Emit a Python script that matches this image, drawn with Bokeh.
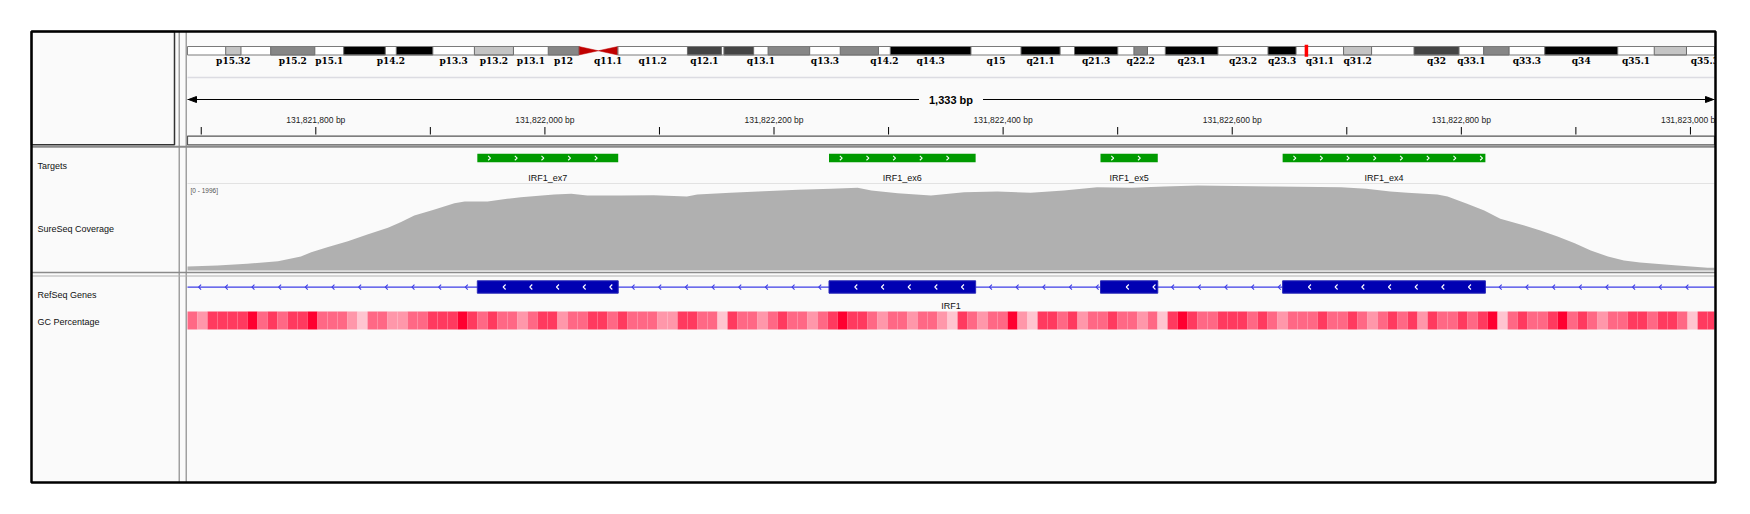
import numpy as np
from bokeh.plotting import figure
from bokeh.models import Range1d, Label
from bokeh.core.properties import value
from bokeh.embed import file_html
from bokeh.resources import INLINE

# ---------------- data ----------------
view_start = 131821688
view_end = 131823021
span_text = "1,333 bp"

band_names = ["p15.33", "p15.32", "p15.31", "p15.2", "p15.1", "p14.3", "p14.2", "p14.1", "p13.3", "p13.2",
              "p13.1", "p12", "p11", "q11.1", "q11.2", "q12.1", "q12.2", "q12.3", "q13.1", "q13.2",
              "q13.3", "q14.1", "q14.2", "q14.3", "q15", "q21.1", "q21.2", "q21.3", "q22.1", "q22.2",
              "q22.3", "q23.1", "q23.2", "q23.3", "q31.1", "q31.2", "q31.3", "q32", "q33.1", "q33.2",
              "q33.3", "q34", "q35.1", "q35.2", "q35.3"]
band_start_mb = [0.0, 4.5, 6.3, 9.8, 15.0, 18.4, 23.3, 24.6, 28.9, 33.8,
                 38.4, 42.5, 46.1, 48.4, 50.7, 58.9, 62.9, 63.2, 66.7, 68.4,
                 73.3, 76.9, 81.4, 82.8, 92.3, 98.2, 102.8, 104.5, 109.6, 111.5,
                 113.1, 115.2, 121.4, 127.3, 130.6, 136.2, 139.5, 144.5, 149.8, 152.7,
                 155.7, 159.9, 168.5, 172.8, 176.6]
band_end_mb = [4.5, 6.3, 9.8, 15.0, 18.4, 23.3, 24.6, 28.9, 33.8, 38.4,
               42.5, 46.1, 48.4, 50.7, 58.9, 62.9, 63.2, 66.7, 68.4, 73.3,
               76.9, 81.4, 82.8, 92.3, 98.2, 102.8, 104.5, 109.6, 111.5, 113.1,
               115.2, 121.4, 127.3, 130.6, 136.2, 139.5, 144.5, 149.8, 152.7, 155.7,
               159.9, 168.5, 172.8, 176.6, 180.915]
band_stain = ["gneg", "gpos25", "gneg", "gpos50", "gneg", "gpos100", "gneg", "gpos100", "gneg", "gpos25",
              "gneg", "gpos50", "acen", "acen", "gneg", "gpos75", "gneg", "gpos75", "gneg", "gpos50",
              "gneg", "gpos50", "gneg", "gpos100", "gneg", "gpos100", "gneg", "gpos100", "gneg", "gpos50",
              "gneg", "gpos100", "gneg", "gpos100", "gneg", "gpos25", "gneg", "gpos75", "gneg", "gpos50",
              "gneg", "gpos100", "gneg", "gpos25", "gneg"]
band_labels_shown = ["p15.32", "p15.2", "p15.1", "p14.2", "p13.3", "p13.2", "p13.1", "p12", "q11.1",
                     "q11.2", "q12.1", "q13.1", "q13.3", "q14.2", "q14.3", "q15", "q21.1", "q21.3",
                     "q22.2", "q23.1", "q23.2", "q23.3", "q31.1", "q31.2", "q32", "q33.1", "q33.3",
                     "q34", "q35.1", "q35.3"]

ruler_minor = [131821700, 131821800, 131821900, 131822000, 131822100, 131822200, 131822300,
               131822400, 131822500, 131822600, 131822700, 131822800, 131822900, 131823000]
ruler_major = [131821800, 131822000, 131822200, 131822400, 131822600, 131822800, 131823000]
ruler_major_labels = ["131,821,800 bp", "131,822,000 bp", "131,822,200 bp", "131,822,400 bp",
                      "131,822,600 bp", "131,822,800 bp", "131,823,000 bp"]

target_names = ["IRF1_ex7", "IRF1_ex6", "IRF1_ex5", "IRF1_ex4"]
target_start = [131821941, 131822248, 131822485, 131822644]
target_end = [131822064, 131822376, 131822535, 131822821]

gene_name = "IRF1"
exon_start = [131821941, 131822248, 131822485, 131822644]
exon_end = [131822064, 131822376, 131822535, 131822821]

cov_range_max = 1996
cov_pos = [131821688, 131821714, 131821740, 131821767, 131821787, 131821796, 131821810, 131821828,
           131821845, 131821863, 131821874, 131821886, 131821903, 131821921, 131821930, 131821950,
           131821967, 131821979, 131822008, 131822023, 131822037, 131822066, 131822095, 131822124,
           131822133, 131822162, 131822191, 131822221, 131822250, 131822273, 131822285, 131822308,
           131822337, 131822366, 131822395, 131822424, 131822453, 131822482, 131822512, 131822541,
           131822570, 131822637, 131822695, 131822717, 131822738, 131822753, 131822779, 131822788,
           131822805, 131822820, 131822834, 131822855, 131822869, 131822884, 131822899, 131822913,
           131822928, 131822942, 131822956, 131822986, 131823015, 131823021]
cov_val = [92, 115, 153, 214, 321, 421, 535, 673, 826, 979,
           1109, 1262, 1392, 1545, 1583, 1583, 1644, 1683, 1744, 1759,
           1721, 1721, 1728, 1698, 1744, 1782, 1820, 1851, 1874, 1897,
           1836, 1775, 1721, 1797, 1812, 1782, 1836, 1912, 1897, 1928,
           1950, 1928, 1912, 1874, 1812, 1782, 1744, 1698, 1530, 1377,
           1185, 1032, 918, 780, 627, 459, 321, 229, 184, 122,
           61, 61]

gc_window_bp = 8.73
gc_pct = [54, 46, 62, 62, 62, 62, 72, 54, 62, 54, 62, 62, 72, 54, 54, 54, 46, 38, 54, 54,
          46, 46, 54, 54, 62, 62, 62, 72, 62, 54, 62, 54, 54, 46, 54, 62, 62, 46, 54, 54,
          62, 62, 54, 62, 54, 54, 54, 46, 46, 62, 62,
          54, 54, 38, 62, 54, 54, 46, 54, 62, 54, 54, 46, 54, 62, 72, 62, 62, 54, 46, 54,
          54, 46, 54, 54, 46, 38, 62, 54, 46, 54, 54, 72, 46, 38, 62, 62, 54, 62, 46, 54,
          54, 62, 54, 54, 46, 54, 38, 62, 72, 62, 54,
          54, 62, 62, 62, 54, 62, 54, 46, 54, 54, 54, 62, 54, 54, 62, 54, 46, 54, 62, 54,
          62, 46, 62, 54, 54, 62, 54, 62, 72, 38, 54, 62, 54, 54, 62, 72, 54, 62, 54, 46,
          54, 54, 62, 62, 54, 62, 62, 54, 38, 62, 62]

track_names = ["Targets", "SureSeq Coverage", "RefSeq Genes", "GC Percentage"]

# ---------------- layout (page pixels; canvas origin at page origin) ----------------
OFF = 0
W, H = 1734, 498
FL, FR, FT, FB = 31.0, 1715.0, 31.0, 482.0
NAME_BOX_R = 174.0
DIV1, DIV2 = 178.7, 185.7
PL, PR = 187.0, 1714.0
IDEO_SPAN_MB = 179.9
IDEO_T, IDEO_B = 46.0, 54.5
IDEO_LBL_Y = 60.8
HDR_LINE_Y = 77.0
SPAN_Y = 99.0
TICK_LBL_Y = 119.0
TICK_T, TICK_B = 126.5, 134.0
RULER_T, RULER_B = 135.7, 144.3
HDR_SEP = 146.2
TGT_T, TGT_B = 153.3, 161.8
TGT_LBL_Y = 177.0
SEP1 = 183.0
COV_T, COV_B = 183.0, 270.0
SEP2A, SEP2B = 272.0, 275.5
GENE_Y = 286.7
EXON_T, EXON_B = 280.3, 292.7
GENE_LBL_Y = 305.5
GC_T, GC_B = 311.0, 329.0
NAME_X = 37.0
NAME_Y = [165.7, 228.0, 294.3, 321.0]
STEP_PX = 26.67
FONT_NAME = "Liberation Sans"
FONT = value(FONT_NAME)

sx = (PR - PL) / (view_end - view_start)
sc = (PR - PL) / IDEO_SPAN_MB
syc = (COV_B - COV_T) / cov_range_max


def bp_of(px):
    return view_start + (px - PL) / sx


def px_of(bp):
    return PL + (bp - view_start) * sx


p = figure(width=W, height=H, x_range=Range1d(OFF, OFF + W), y_range=Range1d(OFF + H, OFF),
           output_backend="svg", toolbar_location=None, min_border=0,
           x_axis_location=None, y_axis_location=None)
p.xgrid.visible = False
p.ygrid.visible = False
p.outline_line_color = None
p.background_fill_color = "white"
p.border_fill_color = "white"
p.extra_x_ranges = {
    "bp": Range1d(bp_of(OFF), bp_of(OFF + W)),
    "chr": Range1d(-(PL - OFF) / sc, IDEO_SPAN_MB + (OFF + W - PR) / sc),
}
p.extra_y_ranges = {"cov": Range1d(-(OFF + H - COV_B) / syc, (COV_B - OFF) / syc)}

# interior background
p.quad(left=[FL], right=[FR], top=[FT], bottom=[FB], fill_color="#fafafa", line_color=None)

# ---------------- ideogram ----------------
stain_colors = {"gneg": "#ffffff", "gpos25": "#c4c4c4", "gpos50": "#868686",
                "gpos75": "#444444", "gpos100": "#000000"}
idx_plain = [i for i, s in enumerate(band_stain) if s == "gneg"]
idx_stain = [i for i, s in enumerate(band_stain) if s not in ("gneg", "acen")]
p.quad(left=[band_start_mb[i] for i in idx_plain],
       right=[min(band_end_mb[i], IDEO_SPAN_MB) for i in idx_plain],
       top=IDEO_T, bottom=IDEO_B, fill_color="#ffffff", line_color=None, x_range_name="chr")
p.quad(left=[band_start_mb[i] for i in idx_stain],
       right=[min(band_end_mb[i], IDEO_SPAN_MB) for i in idx_stain],
       top=IDEO_T, bottom=IDEO_B, fill_color=[stain_colors[band_stain[i]] for i in idx_stain],
       line_color="#6a6a6a", line_width=1, x_range_name="chr")
acen = [i for i, s in enumerate(band_stain) if s == "acen"]
mid = (IDEO_T + IDEO_B) / 2
xs, ys = [], []
for i in acen:
    s, e = band_start_mb[i], band_end_mb[i]
    if band_names[i].startswith("p"):
        xs.append([s, e, s]); ys.append([IDEO_T, mid, IDEO_B])
    else:
        xs.append([s, e, e]); ys.append([mid, IDEO_T, IDEO_B])
p.patches(xs, ys, fill_color="#c00000", line_color="#c00000", line_width=0.5, x_range_name="chr")
p_end = band_start_mb[acen[0]]
q_start = band_end_mb[acen[-1]]
p.quad(left=[0, q_start], right=[p_end, IDEO_SPAN_MB], top=IDEO_T, bottom=IDEO_B,
       fill_color=None, line_color="#7a7a7a", line_width=1, x_range_name="chr")
view_mid_mb = (view_start + view_end) / 2 / 1e6
p.rect(x=[view_mid_mb], y=[mid], width=3.5, height=12, width_units="screen", height_units="screen",
       fill_color="#ff0000", line_color=None, x_range_name="chr")
lbl_idx = [band_names.index(n) for n in band_labels_shown]
p.text(x=[(band_start_mb[i] + band_end_mb[i]) / 2 for i in lbl_idx], y=IDEO_LBL_Y,
       text=[band_names[i] for i in lbl_idx], x_range_name="chr",
       text_font=value("DejaVu Serif"), text_font_style="bold", text_font_size="9px",
       text_align="center", text_baseline="middle", text_color="#000000")

# header light line
p.segment(x0=[PL], x1=[PR], y0=[HDR_LINE_Y], y1=[HDR_LINE_Y], line_color="#dcdce2", line_width=1.5)

# ---------------- span line ----------------
p.segment(x0=[view_start], x1=[view_end], y0=[SPAN_Y], y1=[SPAN_Y], line_color="#000000",
          line_width=1, x_range_name="bp")
p.patches([[PL + 1, PL + 9, PL + 9], [PR - 1, PR - 9, PR - 9]],
          [[SPAN_Y, SPAN_Y - 3, SPAN_Y + 3], [SPAN_Y, SPAN_Y - 3, SPAN_Y + 3]],
          fill_color="#000000", line_color="#000000")
p.add_layout(Label(x=(view_start + view_end) / 2, y=SPAN_Y, x_range_name="bp", text=span_text,
                   text_align="center", text_baseline="middle", text_font=FONT_NAME,
                   text_font_style="bold", text_font_size="11px", text_color="#000000",
                   background_fill_color="#fafafa", padding=10))

# ---------------- ruler ----------------
p.segment(x0=ruler_minor, x1=ruler_minor, y0=TICK_T, y1=TICK_B, line_color="#000000",
          line_width=1, x_range_name="bp")
p.text(x=ruler_major, y=TICK_LBL_Y, text=ruler_major_labels, x_range_name="bp",
       text_font=FONT, text_font_size="8.5px", text_align="center", text_baseline="middle",
       text_color="#222222")
p.quad(left=[PL], right=[PR], top=[RULER_T], bottom=[RULER_B], fill_color=None,
       line_color="#555555", line_width=1.2)

# header name box, separators, dividers
p.quad(left=[FL], right=[NAME_BOX_R], top=[FT], bottom=[RULER_B], fill_color=None,
       line_color="#333333", line_width=1.5)
p.segment(x0=[FL], x1=[FR], y0=[HDR_SEP], y1=[HDR_SEP], line_color="#8a8a8a", line_width=2)
p.segment(x0=[DIV1, DIV2], x1=[DIV1, DIV2], y0=[FT, FT], y1=[FB, FB], line_color="#8a8a8a",
          line_width=1.2)

# ---------------- targets ----------------
p.quad(left=target_start, right=target_end, top=TGT_T, bottom=TGT_B, fill_color="#009a00",
       line_color=None, x_range_name="bp")
cx, cy = [], []
tmid = (TGT_T + TGT_B) / 2
for s, e in zip(target_start, target_end):
    a, b = px_of(s), px_of(e)
    x = a + 12
    while x < b - 1.5:
        cx.append([bp_of(x - 1.2), bp_of(x + 1.2), bp_of(x - 1.2)])
        cy.append([tmid - 2.2, tmid, tmid + 2.2])
        x += STEP_PX
p.multi_line(cx, cy, line_color="#ffffff", line_width=1.1, x_range_name="bp")
p.text(x=[(s + e) / 2 for s, e in zip(target_start, target_end)], y=TGT_LBL_Y, text=target_names,
       x_range_name="bp", text_font=FONT, text_font_size="9px", text_align="center",
       text_baseline="middle", text_color="#111111")
p.segment(x0=[PL], x1=[PR], y0=[SEP1], y1=[SEP1], line_color="#e2e2e2", line_width=1)

# ---------------- coverage ----------------
p.varea(x=cov_pos, y1=0, y2=cov_val, fill_color="#b0b0b0", x_range_name="bp", y_range_name="cov")
p.text(x=[PL + 3], y=[189.5], text=["[0 - %d]" % cov_range_max], text_font=FONT,
       text_font_size="6.5px", text_align="left", text_baseline="middle", text_color="#555555")
p.segment(x0=[FL], x1=[FR], y0=[SEP2A], y1=[SEP2A], line_color="#8a8a8a", line_width=1.6)
p.segment(x0=[FL], x1=[FR], y0=[SEP2B], y1=[SEP2B], line_color="#b0b0b0", line_width=1)

# ---------------- gene ----------------
p.segment(x0=[view_start], x1=[view_end], y0=[GENE_Y], y1=[GENE_Y], line_color="#3c3ce6",
          line_width=1.3, x_range_name="bp")
ax, ay = [], []
gaps = [(PL, px_of(exon_start[0]), PL + 12.3)]
for k in range(len(exon_start) - 1):
    a = px_of(exon_end[k])
    gaps.append((a, px_of(exon_start[k + 1]), a + 15))
a = px_of(exon_end[-1])
gaps.append((a, PR, a + 15))
for a, b, x in gaps:
    while x < b - 2:
        ax.append([bp_of(x + 1.3), bp_of(x - 1.2), bp_of(x + 1.3)])
        ay.append([GENE_Y - 2.5, GENE_Y, GENE_Y + 2.5])
        x += STEP_PX
p.multi_line(ax, ay, line_color="#3c3ce6", line_width=1.1, x_range_name="bp")
p.quad(left=exon_start, right=exon_end, top=EXON_T, bottom=EXON_B, fill_color="#0000b2",
       line_color="#2a2ab8", line_width=1, x_range_name="bp")
ex, ey = [], []
emid = (EXON_T + EXON_B) / 2
for s, e in zip(exon_start, exon_end):
    a, b = px_of(s), px_of(e)
    x = a + 27
    while x < b - 2:
        ex.append([bp_of(x + 1.3), bp_of(x - 1.2), bp_of(x + 1.3)])
        ey.append([emid - 2.5, emid, emid + 2.5])
        x += STEP_PX
p.multi_line(ex, ey, line_color="#ffffff", line_width=1.1, x_range_name="bp")
p.text(x=[(view_start + view_end) / 2], y=[GENE_LBL_Y], text=[gene_name], x_range_name="bp",
       text_font=FONT, text_font_size="9px", text_align="center", text_baseline="middle",
       text_color="#111111")

# ---------------- GC percentage ----------------
def gc_color(pct):
    t = min(max((pct - 28) / (72 - 28), 0.0), 1.0)
    r = 255
    g = int(round(255 - t * 255))
    b = int(round(255 - t * (255 - 48)))
    return "#%02x%02x%02x" % (r, g, b)


gl = [view_start + i * gc_window_bp for i in range(len(gc_pct))]
gr = [min(view_start + (i + 1) * gc_window_bp, view_end) for i in range(len(gc_pct))]
p.quad(left=gl, right=gr, top=GC_T, bottom=GC_B, fill_color=[gc_color(v) for v in gc_pct],
       line_color=None, x_range_name="bp")

# ---------------- track names ----------------
p.text(x=NAME_X, y=NAME_Y, text=track_names, text_font=FONT, text_font_size="9px",
       text_align="left", text_baseline="middle", text_color="#111111")

# mask outside frame on the right, then frame
p.quad(left=[FR - 0.5], right=[OFF + W], top=[OFF], bottom=[OFF + H], fill_color="#ffffff",
       line_color=None)
p.quad(left=[FL], right=[FR], top=[FT], bottom=[FB], fill_color=None, line_color="#000000",
       line_width=2.5)

open("out.html", "w").write(file_html(p, INLINE))
